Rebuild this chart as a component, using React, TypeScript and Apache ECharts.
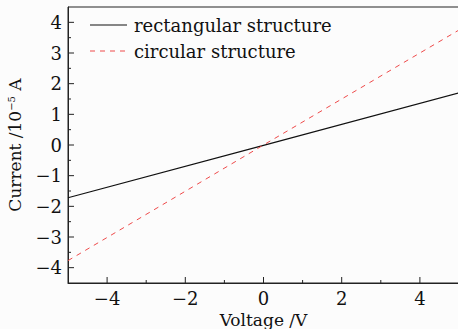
import React, { useEffect, useRef } from "react";
import * as echarts from "echarts";

const voltage = [-5, 0, 5];
const rectCurrent = [-1.72, -0.01, 1.7];
const circCurrent = [-3.77, 0.0, 3.75];
const xMajorTicks = [-4, -2, 0, 2, 4];
const xMinorTicks = [-3, -1, 1, 3];
const yMajorTicks = [-4, -3, -2, -1, 0, 1, 2, 3, 4];
const yMinorTicks = [-3.5, -2.5, -1.5, -0.5, 0.5, 1.5, 2.5, 3.5];
const seriesNames = ["rectangular structure", "circular structure"];

const FONT = "DejaVu Serif";
const FS = 18;
const INK = "#111";
const RED = "#ee4a4a";
const fmt = (v: number) => String(v).replace("-", "\u2212");

function tickSeries(values: number[], dir: "x" | "y", len: number) {
  return {
    type: "custom",
    silent: true,
    clip: false,
    z: 5,
    data: values.map((v) => (dir === "x" ? [v, 0] : [0, v])),
    renderItem: (params: any, api: any) => {
      const cs = params.coordSys;
      if (dir === "x") {
        const p = api.coord([api.value(0), 0]);
        const y0 = cs.y + cs.height;
        return {
          type: "line",
          shape: { x1: p[0], y1: y0, x2: p[0], y2: y0 - len },
          style: { stroke: "#222", lineWidth: 1 },
        };
      }
      const p = api.coord([0, api.value(1)]);
      const x0 = cs.x;
      return {
        type: "line",
        shape: { x1: x0, y1: p[1], x2: x0 + len, y2: p[1] },
        style: { stroke: "#222", lineWidth: 1 },
      };
    },
  };
}

export default function App() {
  const ref = useRef<HTMLDivElement>(null);
  useEffect(() => {
    document.body.style.margin = "0";
    const chart = echarts.init(ref.current!, null, { renderer: "svg" });
    chart.setOption({
      animation: false,
      backgroundColor: "#fcfcfc",
      grid: {
        left: 68,
        top: 7,
        width: 391,
        height: 276,
        show: true,
        borderColor: "#222",
        borderWidth: 1,
        backgroundColor: "transparent",
        containLabel: false,
        outerBoundsMode: "none",
      },
      graphic: [
        {
          type: "line",
          shape: { x1: 90, y1: 25, x2: 127, y2: 25 },
          style: { stroke: INK, lineWidth: 1.2 },
          z: 10,
        },
        {
          type: "text",
          x: 134,
          y: 25,
          style: { text: seriesNames[0], font: `${FS}px "${FONT}"`, fill: INK, verticalAlign: "middle" },
          z: 10,
        },
        {
          type: "line",
          shape: { x1: 90, y1: 51, x2: 127, y2: 51 },
          style: { stroke: RED, lineWidth: 1, lineDash: [5, 5] },
          z: 10,
        },
        {
          type: "text",
          x: 134,
          y: 51,
          style: { text: seriesNames[1], font: `${FS}px "${FONT}"`, fill: INK, verticalAlign: "middle" },
          z: 10,
        },
      ],
      xAxis: {
        type: "value",
        min: -5,
        max: 5,
        name: "Voltage /V",
        nameLocation: "middle",
        nameGap: 20,
        nameTextStyle: { fontFamily: FONT, fontSize: 17, color: INK },
        axisLine: { show: true, onZero: false, lineStyle: { color: "#222", width: 1 } },
        axisTick: { show: false },
        axisLabel: {
          customValues: xMajorTicks,
          formatter: fmt,
          fontFamily: FONT,
          fontSize: FS,
          color: INK,
          margin: 6,
        },
        splitLine: { show: false },
      },
      yAxis: {
        type: "value",
        min: -4.5,
        max: 4.5,
        name: "{a|Current /10}{s|\u22125}{a| A}",
        nameLocation: "middle",
        nameGap: 44,
        nameTextStyle: {
          rich: {
            a: { fontFamily: FONT, fontSize: 17, color: INK },
            s: { fontFamily: FONT, fontSize: 10, color: INK, verticalAlign: "top", padding: [0, 0, 8, 0] },
          },
        },
        axisLine: { show: true, onZero: false, lineStyle: { color: "#222", width: 1 } },
        axisTick: { show: false },
        axisLabel: {
          customValues: yMajorTicks,
          formatter: fmt,
          fontFamily: FONT,
          fontSize: FS,
          color: INK,
          margin: 6,
        },
        splitLine: { show: false },
      },
      series: [
        tickSeries(xMajorTicks, "x", 6),
        tickSeries(xMinorTicks, "x", 3),
        tickSeries(yMajorTicks, "y", 6),
        tickSeries(yMinorTicks, "y", 3),
        {
          name: seriesNames[0],
          type: "line",
          symbol: "none",
          data: voltage.map((v, i) => [v, rectCurrent[i]]),
          lineStyle: { color: INK, width: 1.2, type: "solid" },
        },
        {
          name: seriesNames[1],
          type: "line",
          symbol: "none",
          data: voltage.map((v, i) => [v, circCurrent[i]]),
          lineStyle: { color: RED, width: 1, type: [5, 5] },
        },
      ],
    });
    return () => chart.dispose();
  }, []);
  return <div ref={ref} style={{ width: 458, height: 329 }} />;
}
